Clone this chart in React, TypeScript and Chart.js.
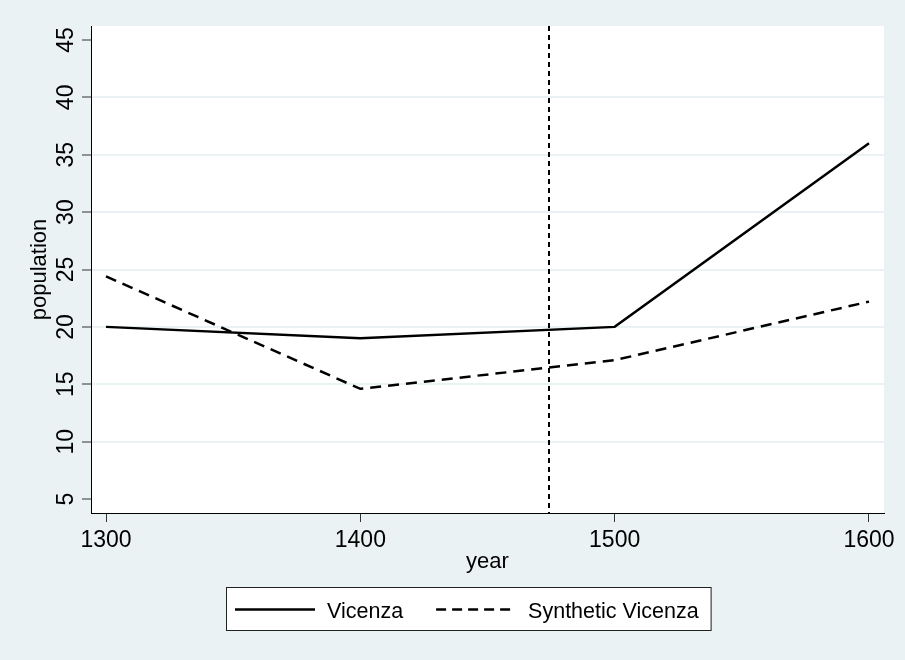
import React, { useEffect, useRef } from "react";
import { Chart, registerables } from "chart.js";

Chart.register(...registerables);

const years = [1300, 1400, 1500, 1600];
const vicenza = [20, 19, 20, 36];
const syntheticVicenza = [24.4, 14.6, 17.1, 22.2];
const xTicks = [1300, 1400, 1500, 1600];
const yTicks = [5, 10, 15, 20, 25, 30, 35, 40, 45];
const treatmentYear = 1474;
const seriesLabels = ["Vicenza", "Synthetic Vicenza"];

const BG = "#EAF2F3";
const GRID = "#EAF2F3";
const FONT = "'Liberation Sans', Arial, Helvetica, sans-serif";

const stataPlugin = {
  id: "stataLook",
  beforeDraw(chart: any) {
    const { ctx, width, height, chartArea } = chart;
    ctx.save();
    ctx.fillStyle = BG;
    ctx.fillRect(0, 0, width, height);
    ctx.fillStyle = "#ffffff";
    ctx.fillRect(chartArea.left, chartArea.top, chartArea.right - chartArea.left, chartArea.bottom - chartArea.top);
    ctx.restore();
  },
  beforeDatasetsDraw(chart: any) {
    const { ctx, chartArea, scales } = chart;
    const x = Math.round(scales.x.getPixelForValue(treatmentYear));
    ctx.save();
    ctx.strokeStyle = "#000";
    ctx.lineWidth = 2;
    ctx.setLineDash([5, 4]);
    ctx.beginPath();
    ctx.moveTo(x, chartArea.top);
    ctx.lineTo(x, chartArea.bottom);
    ctx.stroke();
    ctx.restore();
  },
  afterDraw(chart: any) {
    const { ctx, scales } = chart;
    const ys = scales.y;
    ctx.save();
    ctx.fillStyle = "#000";
    ctx.font = `23px ${FONT}`;
    ctx.textAlign = "center";
    ctx.textBaseline = "alphabetic";
    yTicks.forEach((v) => {
      const py = ys.getPixelForValue(v);
      ctx.save();
      ctx.translate(73, py);
      ctx.rotate(-Math.PI / 2);
      ctx.fillText(String(v), 0, 0);
      ctx.restore();
    });
    ctx.restore();

    // legend
    const boxL = 226, boxT = 587, boxB = 630;
    ctx.save();
    ctx.font = `21.5px ${FONT}`;
    let x = boxL + 9;
    const lineY = 609.5;
    const items: { sx: number; tx: number }[] = [];
    chart.data.datasets.forEach((ds: any) => {
      const tw = ctx.measureText(ds.label).width;
      items.push({ sx: x, tx: x + 92 });
      x = x + 92 + tw + 33;
    });
    const boxR = x - 33 + 12;
    ctx.fillStyle = "#fff";
    ctx.fillRect(boxL, boxT, boxR - boxL, boxB - boxT);
    ctx.strokeStyle = "#222";
    ctx.lineWidth = 1;
    ctx.strokeRect(boxL + 0.5, boxT + 0.5, boxR - boxL, boxB - boxT);
    chart.data.datasets.forEach((ds: any, i: number) => {
      const it = items[i];
      ctx.strokeStyle = "#000";
      ctx.lineWidth = 2.5;
      ctx.setLineDash(ds.borderDash && ds.borderDash.length ? [10, 6] : []);
      ctx.beginPath();
      ctx.moveTo(it.sx, lineY);
      ctx.lineTo(it.sx + 80, lineY);
      ctx.stroke();
      ctx.setLineDash([]);
      ctx.fillStyle = "#000";
      ctx.textAlign = "left";
      ctx.textBaseline = "alphabetic";
      ctx.fillText(ds.label, it.tx, 618);
    });
    ctx.restore();
  },
};

export default function App() {
  const ref = useRef<HTMLCanvasElement | null>(null);
  useEffect(() => {
    if (!ref.current) return;
    const chart = new Chart(ref.current, {
      type: "line",
      data: {
        datasets: [
          {
            label: seriesLabels[0],
            data: years.map((y, i) => ({ x: y, y: vicenza[i] })),
            borderColor: "#000",
            borderWidth: 2.5,
            pointRadius: 0,
            tension: 0,
            fill: false,
          },
          {
            label: seriesLabels[1],
            data: years.map((y, i) => ({ x: y, y: syntheticVicenza[i] })),
            borderColor: "#000",
            borderWidth: 2.5,
            borderDash: [11, 7],
            pointRadius: 0,
            tension: 0,
            fill: false,
          },
        ],
      },
      options: {
        responsive: false,
        animation: false,
        devicePixelRatio: 1,
        layout: { padding: { left: 0, right: 21, top: 26, bottom: 85 } },
        plugins: { legend: { display: false }, tooltip: { enabled: false } },
        scales: {
          x: {
            type: "linear",
            min: 1294.1,
            max: 1605.9,
            afterBuildTicks: (s: any) => {
              s.ticks = xTicks.map((v) => ({ value: v }));
            },
            afterFit: (s: any) => {
              s.height = 62;
            },
            grid: {
              drawOnChartArea: false,
              drawTicks: true,
              tickLength: 9,
              tickColor: "#333",
              tickWidth: 1,
            },
            border: { display: true, color: "#000", width: 1 },
            ticks: {
              color: "#000",
              font: { family: FONT, size: 23 },
              padding: 5,
              maxRotation: 0,
              callback: (v: any) => String(v),
            },
            title: {
              display: true,
              text: "year",
              color: "#000",
              font: { family: FONT, size: 22 },
              padding: 0,
            },
          },
          y: {
            type: "linear",
            min: 3.78,
            max: 46.22,
            afterBuildTicks: (s: any) => {
              s.ticks = yTicks.map((v) => ({ value: v }));
            },
            afterFit: (s: any) => {
              s.width = 91;
            },
            grid: {
              drawOnChartArea: true,
              color: (c: any) => {
                const v = c.tick ? c.tick.value : null;
                return v === 5 || v === 45 ? "rgba(0,0,0,0)" : GRID;
              },
              lineWidth: 2,
              drawTicks: true,
              tickLength: 9,
              tickColor: "#333",
              tickWidth: 1,
            },
            border: { display: true, color: "#000", width: 1 },
            ticks: { display: false },
            title: {
              display: true,
              text: "population",
              color: "#000",
              font: { family: FONT, size: 22 },
              padding: { top: 27, bottom: 0 },
            },
          },
        },
      },
      plugins: [stataPlugin],
    } as any);
    return () => chart.destroy();
  }, []);
  return (
    <div style={{ position: "fixed", left: 0, top: 0, width: 905, height: 660 }}>
      <canvas ref={ref} width={905} height={660} style={{ display: "block" }} />
    </div>
  );
}
